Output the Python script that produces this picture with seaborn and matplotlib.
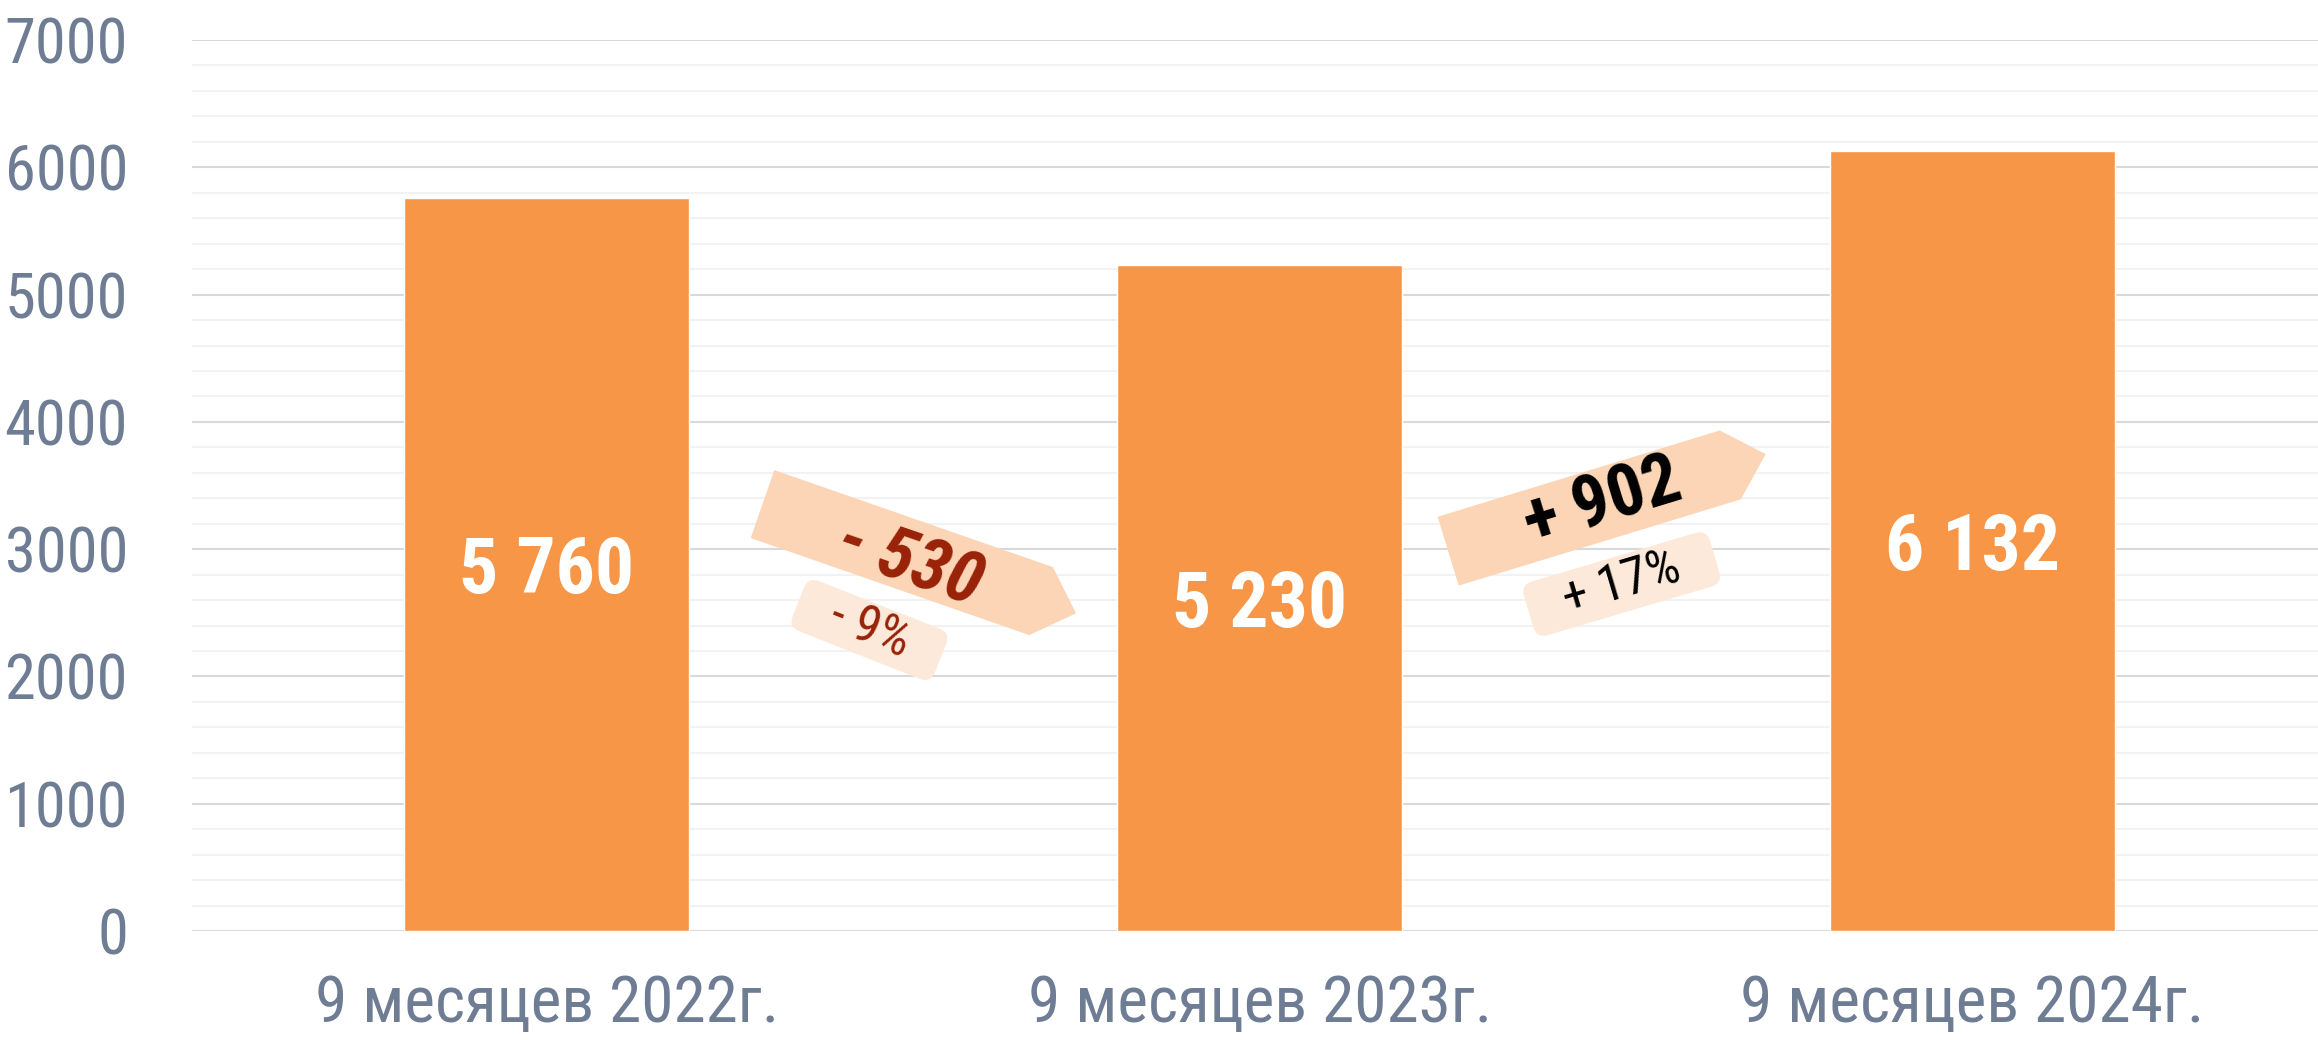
"""
Bar chart: 9-month totals 2022-2024 with change arrows between bars
"""

# =============================================================================
# IMPORTING LIBRARIES
# =============================================================================
import numpy as np
import pandas as pd
import matplotlib
matplotlib.use('Agg')
import matplotlib.pyplot as plt
from matplotlib import font_manager as fm
from matplotlib.patches import Polygon, FancyBboxPatch
from matplotlib.transforms import Affine2D
from matplotlib.textpath import TextPath
from matplotlib.ticker import MultipleLocator
import seaborn as sns

# =============================================================================
# DATA
# =============================================================================
periods = ['9 месяцев 2022г.', '9 месяцев 2023г.', '9 месяцев 2024г.']
values = [5760, 5230, 6132]
y_ticks = [0, 1000, 2000, 3000, 4000, 5000, 6000, 7000]

# =============================================================================
# STYLE / FONT
# =============================================================================
sns.set_style('white')

# the original uses a narrow (Arial Narrow like) face - take one if there is any
names = {f.name for f in fm.fontManager.ttflist}
family = 'Liberation Sans'
for cand in ['Liberation Sans Narrow', 'Arial Narrow', 'Roboto Condensed',
             'Open Sans Condensed', 'DejaVu Sans Condensed', 'PT Sans Narrow']:
    if cand in names:
        family = cand
        break
else:
    cond = [f.name for f in fm.fontManager.ttflist
            if 'Condensed' in f.name or 'Narrow' in f.name]
    if cond:
        family = cond[0]
plt.rcParams['font.family'] = [family, 'DejaVu Sans']

# shrink sizes so the widths match the narrow original
probe = TextPath((0, 0), periods[0], size=47, prop=fm.FontProperties(family=family))
k = min(1.0, 483 / (probe.get_extents().width * 100 / 72))

BAR_COLOR = '#F79646'
ARROW_COLOR = '#FBD5B5'
BOX_COLOR = '#FDE9D9'
TICK_COLOR = '#6E7D94'
DOWN_COLOR = '#992208'

df = pd.DataFrame({'period': periods, 'value': values})

fig = plt.figure(figsize=(23.18, 10.4), dpi=100)
ax = fig.add_axes([0.0828, 0.1048, 1 - 0.0828, 0.9615 - 0.1048])

sns.barplot(data=df, x='period', y='value', color=BAR_COLOR, saturation=1,
            width=0.4, ax=ax, zorder=2)

ax.set_xlim(-0.498, 2.485)
ax.set_ylim(0, 7000)
ax.set_yticks(y_ticks)
ax.yaxis.set_minor_locator(MultipleLocator(200))
ax.grid(axis='y', which='major', color='#D9D9D9', linewidth=1.5, zorder=0)
ax.grid(axis='y', which='minor', color='#F2F2F2', linewidth=1.5, zorder=0)
ax.set_axisbelow(True)
for s in ax.spines.values():
    s.set_visible(False)
ax.set_xlabel('')
ax.set_ylabel('')
ax.tick_params(axis='y', which='both', length=0, pad=46, labelsize=45 * k,
               labelcolor=TICK_COLOR)
ax.tick_params(axis='x', length=0, pad=30, labelsize=47 * k, labelcolor=TICK_COLOR)

# value labels in the middle of bars
for i, v in enumerate(values):
    ax.text(i, v / 2, f'{v:,}'.replace(',', ' '), ha='center', va='center_baseline',
            color='white', fontsize=56 * k, fontweight='bold', zorder=4)

# =============================================================================
# CHANGE ARROWS
# =============================================================================
# placement of each annotation between bars (data coords) and angle
arrow_pos = [(0.498, 2973, -19.2), (1.4625, 3323, 17.0)]
label_pos = [(0.509, 2890, -19.0), (1.482, 3362, 17.0)]
box_pos = [(0.4526, 2365, -21.5, 153, 54), (1.508, 2726, 16.5, 194, 56)]


def local_transform(x, y, angle):
    px, py = ax.transData.transform((x, y))
    return Affine2D().rotate_deg(angle).translate(px, py)


for j in range(len(values) - 1):
    diff = values[j + 1] - values[j]
    pct = round(diff / values[j] * 100)
    sign = '+' if diff > 0 else '-'
    txt_color = 'black' if diff > 0 else DOWN_COLOR
    style = 'normal' if diff > 0 else 'italic'

    # arrow body
    x0, y0, ang = arrow_pos[j]
    L, H, tip = 295 / 2, 72 / 2, 37
    verts = [(-L, H), (L, H), (L + tip, 0), (L, -H), (-L, -H)]
    ax.add_patch(Polygon(verts, closed=True, fc=ARROW_COLOR, ec='none',
                         transform=local_transform(x0, y0, ang), zorder=3))

    # percent box
    bx, by, bang, bw, bh = box_pos[j]
    ax.add_patch(FancyBboxPatch((-bw / 2, -bh / 2), bw, bh,
                                boxstyle='round,pad=0,rounding_size=12',
                                fc=BOX_COLOR, ec='none',
                                transform=local_transform(bx, by, bang), zorder=3))

    tx, ty, tang = label_pos[j]
    ax.text(tx, ty, f'{sign} {abs(diff)}', rotation=tang, rotation_mode='anchor',
            ha='center', va='center', fontsize=52 * k, fontweight='bold',
            fontstyle=style, color=txt_color, zorder=5)
    ax.text(bx, by, f'{sign} {abs(pct)}%', rotation=bang, rotation_mode='anchor',
            ha='center', va='center', fontsize=37 * k, color=txt_color, zorder=5)

fig.savefig('out.png', dpi=100)
plt.close()
